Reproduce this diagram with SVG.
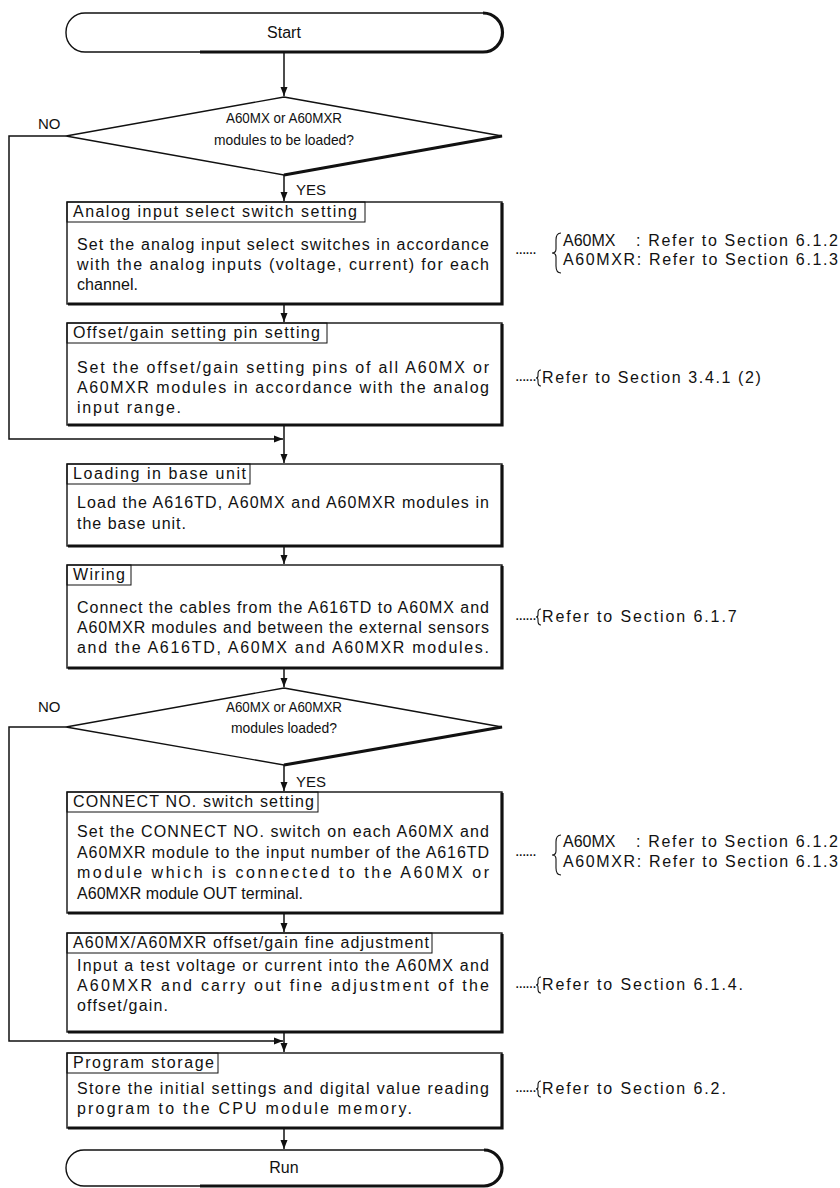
<svg xmlns="http://www.w3.org/2000/svg" width="840" height="1188" viewBox="0 0 840 1188">
<defs>
<style>
.t{font-family:"Liberation Sans",Arial,Helvetica,sans-serif;font-size:16px;fill:#111}
.c{text-anchor:middle}
.d{font-size:15px}
.lb{font-size:15px}
.ld{font-size:16px;letter-spacing:-1px}
.ln{fill:#fff;stroke:#111;stroke-width:1.4}
.tk{fill:none;stroke:#111;stroke-width:3.2}
.tab{fill:none;stroke:#111;stroke-width:1}
.cn{fill:none;stroke:#111;stroke-width:1.5}
.br{fill:none;stroke:#111;stroke-width:1.1}
</style>
<marker id="ah" markerWidth="10" markerHeight="8" refX="9" refY="4" orient="auto" markerUnits="userSpaceOnUse">
<path d="M0,0.5 L9,4 L0,7.5 Z" fill="#111"/>
</marker>
</defs>
<rect width="840" height="1188" fill="#fff"/>

<g id="connectors">
<path class="cn" d="M284 52 V96" marker-end="url(#ah)"/>
<path class="cn" d="M284 175 V201" marker-end="url(#ah)"/>
<path class="cn" d="M284 304 V322" marker-end="url(#ah)"/>
<path class="cn" d="M284 425 V463" marker-end="url(#ah)"/>
<path class="cn" d="M66 136 H9 V439 H283" marker-end="url(#ah)"/>
<path class="cn" d="M284 546 V564" marker-end="url(#ah)"/>
<path class="cn" d="M284 668 V687" marker-end="url(#ah)"/>
<path class="cn" d="M284 765 V791" marker-end="url(#ah)"/>
<path class="cn" d="M284 913 V932" marker-end="url(#ah)"/>
<path class="cn" d="M284 1032 V1052" marker-end="url(#ah)"/>
<path class="cn" d="M66 727 H9 V1041 H283" marker-end="url(#ah)"/>
<path class="cn" d="M284 1128 V1149" marker-end="url(#ah)"/>
<text class="t lb" x="38" y="129">NO</text>
<text class="t lb" x="296" y="195">YES</text>
<text class="t lb" x="38" y="712">NO</text>
<text class="t lb" x="296" y="787">YES</text>
</g>

<g id="start">
<rect class="ln" x="66" y="13" width="436" height="39" rx="19"/>
<path class="tk" d="M483 13 A19 19 0 0 1 483 52 H200"/>
<text class="t c" x="284" y="38">Start</text>
</g>

<g id="decision1">
<polygon class="ln" points="284,97 502,136 284,175 66,136"/>
<path class="tk" d="M502 136 L284 175"/>
<text class="t d c" x="284" y="123" textLength="116" lengthAdjust="spacingAndGlyphs">A60MX or A60MXR</text>
<text class="t d c" x="284" y="145" textLength="140" lengthAdjust="spacingAndGlyphs">modules to be loaded?</text>
</g>

<g id="box1">
<rect class="ln" x="67" y="202" width="435" height="102"/>
<path class="tk" d="M502 203 V304 H68"/>
<rect class="tab" x="67" y="202" width="298" height="20"/>
<text class="t" x="73" y="217" textLength="284" lengthAdjust="spacing">Analog input select switch setting</text>
<text class="t" x="77" y="250" textLength="412" lengthAdjust="spacing">Set the analog input select switches in accordance</text>
<text class="t" x="77" y="270" textLength="412" lengthAdjust="spacing">with the analog inputs (voltage, current) for each</text>
<text class="t" x="77" y="290" textLength="61" lengthAdjust="spacing">channel.</text>
</g>

<g id="note1">
<text class="t ld" x="515" y="254">......</text>
<path class="br" d="M561 233 Q556 233 556 240 L556 249 Q556 253 552 253 Q556 253 556 257 L556 266 Q556 273 561 273"/>
<text class="t" x="563" y="246">A60MX</text>
<text class="t" x="636" y="246" textLength="202" lengthAdjust="spacing">: Refer to Section 6.1.2</text>
<text class="t" x="563" y="265" textLength="275" lengthAdjust="spacing">A60MXR: Refer to Section 6.1.3</text>
</g>

<g id="box2">
<rect class="ln" x="67" y="323" width="435" height="102"/>
<path class="tk" d="M502 324 V425 H68"/>
<rect class="tab" x="67" y="323" width="260" height="20"/>
<text class="t" x="73" y="338" textLength="247" lengthAdjust="spacing">Offset/gain setting pin setting</text>
<text class="t" x="77" y="373" textLength="412" lengthAdjust="spacing">Set the offset/gain setting pins of all A60MX or</text>
<text class="t" x="77" y="393" textLength="412" lengthAdjust="spacing">A60MXR modules in accordance with the analog</text>
<text class="t" x="77" y="413" textLength="104" lengthAdjust="spacing">input range.</text>
</g>

<g id="note2">
<text class="t ld" x="515" y="381">......</text>
<path class="br" d="M541 370 Q538 370 538 374 L538 376 Q538 378 536 378 Q538 378 538 380 L538 382 Q538 386 541 386"/>
<text class="t" x="542" y="383" letter-spacing="1.6">Refer to Section 3.4.1 (2)</text>
</g>

<g id="box3">
<rect class="ln" x="67" y="464" width="435" height="82"/>
<path class="tk" d="M502 465 V546 H68"/>
<rect class="tab" x="67" y="464" width="183" height="20"/>
<text class="t" x="73" y="479" textLength="173" lengthAdjust="spacing">Loading in base unit</text>
<text class="t" x="77" y="508" textLength="412" lengthAdjust="spacing">Load the A616TD, A60MX and A60MXR modules in</text>
<text class="t" x="77" y="529" textLength="109" lengthAdjust="spacing">the base unit.</text>
</g>

<g id="box4">
<rect class="ln" x="67" y="565" width="435" height="103"/>
<path class="tk" d="M502 566 V668 H68"/>
<rect class="tab" x="67" y="565" width="64" height="20"/>
<text class="t" x="73" y="580" textLength="52" lengthAdjust="spacing">Wiring</text>
<text class="t" x="77" y="613" textLength="412" lengthAdjust="spacing">Connect the cables from the A616TD to A60MX and</text>
<text class="t" x="77" y="633" textLength="412" lengthAdjust="spacing">A60MXR modules and between the external sensors</text>
<text class="t" x="77" y="653" textLength="412" lengthAdjust="spacing">and the A616TD, A60MX and A60MXR modules.</text>
</g>

<g id="note3">
<text class="t ld" x="515" y="620">......</text>
<path class="br" d="M541 609 Q538 609 538 613 L538 615 Q538 617 536 617 Q538 617 538 619 L538 621 Q538 625 541 625"/>
<text class="t" x="542" y="622" letter-spacing="1.9">Refer to Section 6.1.7</text>
</g>

<g id="decision2">
<polygon class="ln" points="284,688 502,727 284,765 66,727"/>
<path class="tk" d="M502 727 L284 765"/>
<text class="t d c" x="284" y="712" textLength="116" lengthAdjust="spacingAndGlyphs">A60MX or A60MXR</text>
<text class="t d c" x="284" y="733" textLength="106" lengthAdjust="spacingAndGlyphs">modules loaded?</text>
</g>

<g id="box5">
<rect class="ln" x="67" y="792" width="435" height="121"/>
<path class="tk" d="M502 793 V913 H68"/>
<rect class="tab" x="67" y="792" width="251" height="20"/>
<text class="t" x="73" y="807" textLength="241" lengthAdjust="spacing">CONNECT NO. switch setting</text>
<text class="t" x="77" y="837" textLength="412" lengthAdjust="spacing">Set the CONNECT NO. switch on each A60MX and</text>
<text class="t" x="77" y="858" textLength="412" lengthAdjust="spacing">A60MXR module to the input number of the A616TD</text>
<text class="t" x="77" y="878" textLength="412" lengthAdjust="spacing">module which is connected to the A60MX or</text>
<text class="t" x="77" y="899" textLength="226" lengthAdjust="spacing">A60MXR module OUT terminal.</text>
</g>

<g id="note4">
<text class="t ld" x="515" y="856">......</text>
<path class="br" d="M561 835 Q556 835 556 842 L556 851 Q556 855 552 855 Q556 855 556 859 L556 868 Q556 875 561 875"/>
<text class="t" x="563" y="847">A60MX</text>
<text class="t" x="636" y="847" textLength="202" lengthAdjust="spacing">: Refer to Section 6.1.2</text>
<text class="t" x="563" y="867" textLength="275" lengthAdjust="spacing">A60MXR: Refer to Section 6.1.3</text>
</g>

<g id="box6">
<rect class="ln" x="67" y="933" width="435" height="99"/>
<path class="tk" d="M502 934 V1032 H68"/>
<rect class="tab" x="67" y="933" width="365" height="20"/>
<text class="t" x="73" y="948" textLength="356" lengthAdjust="spacing">A60MX/A60MXR offset/gain fine adjustment</text>
<text class="t" x="77" y="971" textLength="412" lengthAdjust="spacing">Input a test voltage or current into the A60MX and</text>
<text class="t" x="77" y="991" textLength="412" lengthAdjust="spacing">A60MXR and carry out fine adjustment of the</text>
<text class="t" x="77" y="1011" textLength="91" lengthAdjust="spacing">offset/gain.</text>
</g>

<g id="note5">
<text class="t ld" x="515" y="988">......</text>
<path class="br" d="M541 977 Q538 977 538 981 L538 983 Q538 985 536 985 Q538 985 538 987 L538 989 Q538 993 541 993"/>
<text class="t" x="542" y="990" letter-spacing="1.9">Refer to Section 6.1.4.</text>
</g>

<g id="box7">
<rect class="ln" x="67" y="1053" width="435" height="75"/>
<path class="tk" d="M502 1054 V1128 H68"/>
<rect class="tab" x="67" y="1053" width="151" height="20"/>
<text class="t" x="73" y="1068" textLength="141" lengthAdjust="spacing">Program storage</text>
<text class="t" x="77" y="1094" textLength="412" lengthAdjust="spacing">Store the initial settings and digital value reading</text>
<text class="t" x="77" y="1114" textLength="335" lengthAdjust="spacing">program to the CPU module memory.</text>
</g>

<g id="note6">
<text class="t ld" x="515" y="1092">......</text>
<path class="br" d="M541 1081 Q538 1081 538 1085 L538 1087 Q538 1089 536 1089 Q538 1089 538 1091 L538 1093 Q538 1097 541 1097"/>
<text class="t" x="542" y="1094" letter-spacing="1.9">Refer to Section 6.2.</text>
</g>

<g id="run">
<rect class="ln" x="66" y="1150" width="436" height="36" rx="18"/>
<path class="tk" d="M484 1150 A18 18 0 0 1 484 1186 H200"/>
<text class="t c" x="284" y="1173">Run</text>
</g>
</svg>
